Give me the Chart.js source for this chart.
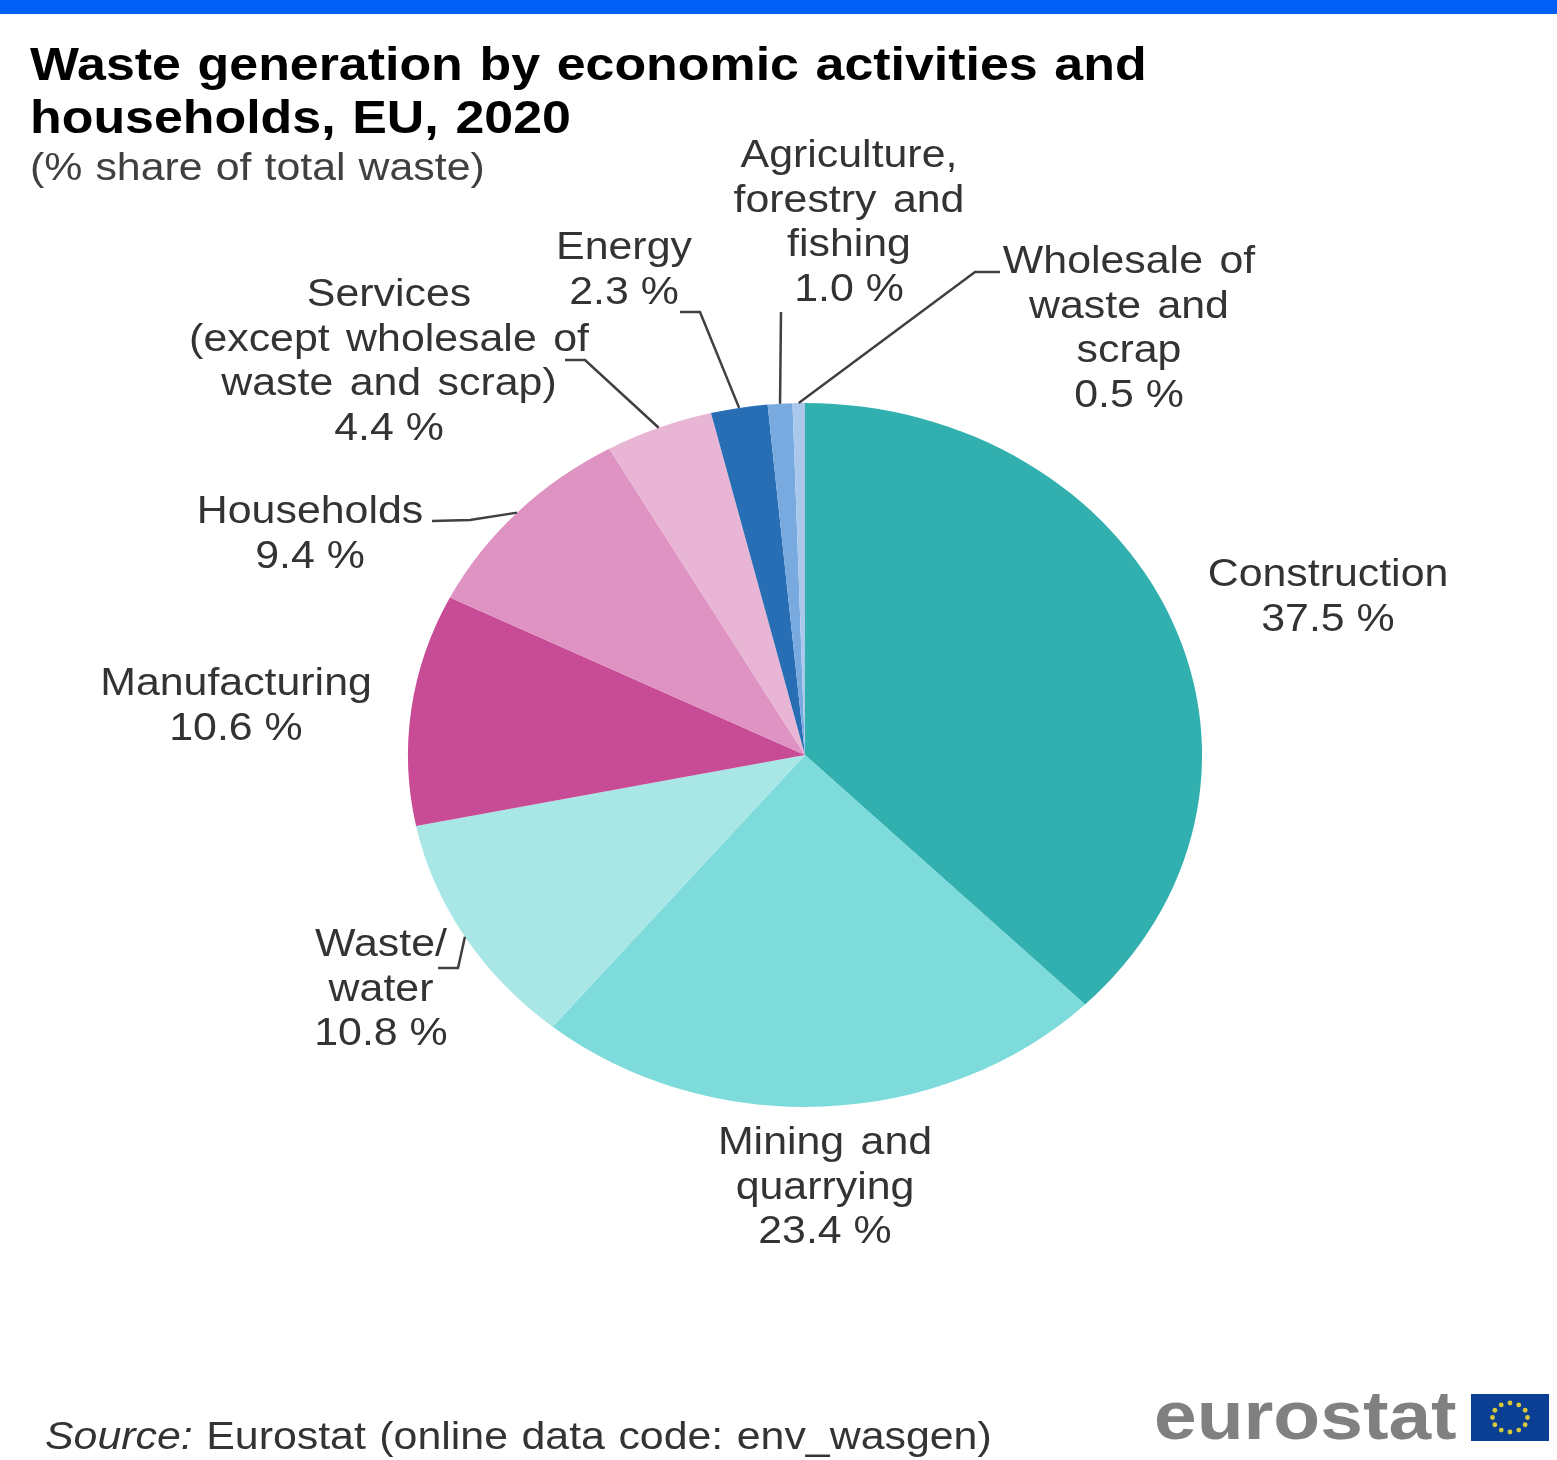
<!DOCTYPE html>
<html>
<head>
<meta charset="utf-8">
<title>Waste generation by economic activities and households, EU, 2020</title>
<script src="https://cdn.jsdelivr.net/npm/chart.js@4"></script>
<style>
    html, body { margin: 0; padding: 0; background: #fff; }
    body { position: relative; width: 1557px; height: 1460px; overflow: hidden; font-family: "Liberation Sans", Arial, sans-serif; }
    #top-bar { position: absolute; left: 0; top: 0; width: 100%; height: 14px; background: #005ff5; }
    #waste-chart { position: absolute; left: 0; top: 0; }
    .wide { position: absolute; white-space: pre; transform-origin: left top; transform: scaleX(1.128); }
    #title { left: 30px; top: 38px; font-size: 46px; line-height: 53px; font-weight: bold; color: #000; word-spacing: 2px; }
    #subtitle { left: 30px; top: 146px; font-size: 38px; line-height: 42px; color: #404040; word-spacing: 1px; }
    #source { left: 45px; top: 1415px; font-size: 38px; line-height: 42px; color: #333; word-spacing: 1.4px; }
    #brand { left: 1154px; top: 1377px; font-size: 68px; line-height: 76px; font-weight: bold; color: #808080; }
</style>
</head>
<body>
<div id="top-bar"></div>
<canvas id="waste-chart" width="1557" height="1460"></canvas>
<div id="title" class="wide">Waste generation by economic activities and
households, EU, 2020</div>
<div id="subtitle" class="wide">(% share of total waste)</div>
<div id="source" class="wide"><i>Source:</i> Eurostat (online data code: env_wasgen)</div>
<div id="brand" class="wide">eurostat</div>

<script>
const categories = ['Construction', 'Mining and quarrying', 'Waste/water', 'Manufacturing', 'Households',
    'Services (except wholesale of waste and scrap)', 'Energy', 'Agriculture, forestry and fishing',
    'Wholesale of waste and scrap'];
const shares = [37.5, 23.4, 10.8, 10.6, 9.4, 4.4, 2.3, 1.0, 0.5];
const sliceColors = ['#32b0b0', '#7ddbdb', '#a9e6e6', '#c84b96', '#de93c3', '#e9b5d5', '#286eb4', '#79aadf', '#a9c8eb'];
const labelLines = [
    ['Construction'],
    ['Mining and', 'quarrying'],
    ['Waste/', 'water'],
    ['Manufacturing'],
    ['Households'],
    ['Services', '(except wholesale of', 'waste and scrap)'],
    ['Energy'],
    ['Agriculture,', 'forestry and', 'fishing'],
    ['Wholesale of', 'waste and', 'scrap'],
];

// where each label block sits: centre x and first baseline
const labelX = [1328, 825, 381, 236, 310, 389, 624, 849, 1129];
const labelY = [586, 1154, 956, 695, 523, 306, 259, 167, 273];
// leader line bends after leaving the slice, null when the label sits next to its slice
const leaderBends = [
    null,
    null,
    [[458, 968], [438, 968]],
    null,
    [[470, 520], [432, 521]],
    [[585, 360], [565, 360]],
    [[700, 312], [680, 312]],
    [[781, 312]],
    [[975, 272], [1000, 272]],
];

// the pie is drawn wider than tall
const STRETCH_X = 1.128;
const LINE_HEIGHT = 44.5;

const stretchPie = {
    id: 'stretchPie',
    beforeDatasetsDraw(chart) {
        const arc = chart.getDatasetMeta(0).data[0];
        const ctx = chart.ctx;
        ctx.save();
        ctx.translate(arc.x, arc.y);
        ctx.scale(STRETCH_X, 1);
        ctx.translate(-arc.x, -arc.y);
    },
    afterDatasetsDraw(chart) {
        chart.ctx.restore();
    },
};

const sliceLabels = {
    id: 'sliceLabels',
    afterDraw(chart) {
        const ctx = chart.ctx;
        const arcs = chart.getDatasetMeta(0).data;

        // leader lines start on the rim at the middle of their slice
        ctx.save();
        ctx.strokeStyle = '#404040';
        ctx.lineWidth = 2.5;
        arcs.forEach((arc, i) => {
            if (!leaderBends[i]) return;
            const mid = (arc.startAngle + arc.endAngle) / 2;
            ctx.beginPath();
            ctx.moveTo(arc.x + Math.cos(mid) * arc.outerRadius * STRETCH_X, arc.y + Math.sin(mid) * arc.outerRadius);
            leaderBends[i].forEach(p => ctx.lineTo(p[0], p[1]));
            ctx.stroke();
        });
        ctx.restore();

        ctx.save();
        ctx.font = '38px "Liberation Sans", Arial, sans-serif';
        ctx.fillStyle = '#333';
        ctx.textAlign = 'center';
        ctx.textBaseline = 'alphabetic';
        categories.forEach((name, i) => {
            const lines = labelLines[i];
            lines.concat(shares[i].toFixed(1) + ' %').forEach((line, n) => {
                ctx.save();
                ctx.wordSpacing = n < lines.length ? '4px' : '0px';
                ctx.translate(labelX[i], labelY[i] + n * LINE_HEIGHT);
                ctx.scale(STRETCH_X, 1);
                ctx.fillText(line, 0, 0);
                ctx.restore();
            });
        });
        ctx.restore();

        drawFlag(ctx);
    },
};

// small EU flag next to the wordmark
function drawFlag(ctx) {
    ctx.save();
    ctx.fillStyle = '#0b3f93';
    ctx.fillRect(1471, 1394, 78, 47);
    ctx.fillStyle = '#d8c93a';
    for (let i = 0; i < 12; i++) {
        const a = i * Math.PI / 6;
        ctx.beginPath();
        ctx.arc(1510 + Math.cos(a) * 17.5, 1417.5 + Math.sin(a) * 14.5, 2.4, 0, Math.PI * 2);
        ctx.fill();
    }
    ctx.restore();
}

new Chart(document.getElementById('waste-chart'), {
    type: 'pie',
    data: {
        labels: categories,
        datasets: [{
            data: shares,
            backgroundColor: sliceColors,
            borderWidth: 0,
        }],
    },
    options: {
        responsive: false,
        animation: false,
        layout: {
            padding: { left: 453, right: 400, top: 403, bottom: 353 },
        },
        plugins: {
            legend: { display: false },
            tooltip: { enabled: false },
        },
    },
    plugins: [stretchPie, sliceLabels],
});
</script>
</body>
</html>
